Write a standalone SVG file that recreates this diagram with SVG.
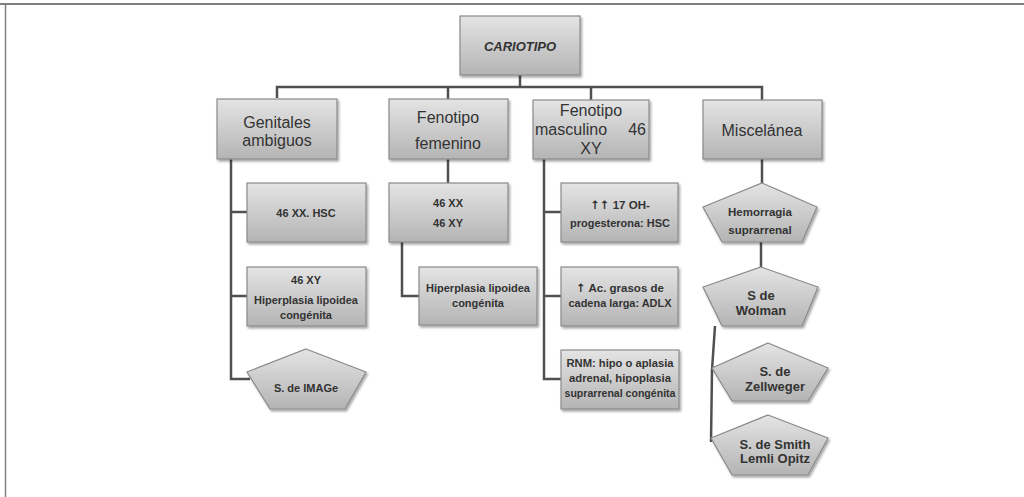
<svg xmlns="http://www.w3.org/2000/svg" width="1024" height="497" viewBox="0 0 1024 497">
<defs>
<linearGradient id="g" x1="0" y1="0" x2="0" y2="1">
<stop offset="0" stop-color="#e4e4e4"/>
<stop offset="1" stop-color="#b4b4b4"/>
</linearGradient>
<filter id="sh" x="-10%" y="-10%" width="130%" height="140%">
<feDropShadow dx="1.5" dy="2" stdDeviation="1.2" flood-color="#000" flood-opacity="0.35"/>
</filter>
<style>
.n{fill:url(#g);stroke:#8a8a8a;stroke-width:1.2;filter:url(#sh)}
.c{fill:none;stroke:#505050;stroke-width:2.5}
.h{font-family:"Liberation Sans",Arial,sans-serif;font-size:16px;fill:#333;text-anchor:middle}
.s{font-family:"Liberation Sans",Arial,sans-serif;font-size:11px;fill:#333;text-anchor:middle;font-weight:bold}
.p{font-family:"Liberation Sans",Arial,sans-serif;font-size:11.5px;fill:#333;text-anchor:middle;font-weight:bold}
.a{font-family:"DejaVu Sans",sans-serif;fill:#333}
</style>
</defs>
<rect width="1024" height="497" fill="#fff"/>
<line x1="0" y1="4" x2="1024" y2="4" stroke="#808080" stroke-width="2"/>
<line x1="5.5" y1="4" x2="5.5" y2="497" stroke="#808080" stroke-width="1.5"/>
<g id="connectors">
<polyline class="c" points="520,75 520,87"/>
<polyline class="c" points="277,98 277,87 762,87 762,100"/>
<polyline class="c" points="448,87 448,99"/>
<polyline class="c" points="591,87 591,100"/>
<polyline class="c" points="231,159 231,379 250,379"/>
<polyline class="c" points="231,212 247,212"/>
<polyline class="c" points="231,296 247,296"/>
<polyline class="c" points="448,159 448,183"/>
<polyline class="c" points="402,242 402,296 419,296"/>
<polyline class="c" points="544,159 544,379 561,379"/>
<polyline class="c" points="544,212 561,212"/>
<polyline class="c" points="544,296 561,296"/>
<polyline class="c" points="762,159 762,183"/>
<polyline class="c" points="761,242 761,267"/>
<polyline class="c" points="715,326 712,370 711,442"/>
</g>
<g id="cariotipo"><rect class="n" x="460" y="16" width="120" height="59"/><text x="520" y="51" class="h" style="font-weight:bold;font-style:italic;font-size:13px">CARIOTIPO</text></g>
<g id="genitales"><rect class="n" x="217" y="99" width="120" height="60"/><text x="277" y="128" class="h">Genitales</text><text x="277" y="146" class="h">ambiguos</text></g>
<g id="femenino"><rect class="n" x="389" y="99" width="119" height="60"/><text x="448" y="123" class="h">Fenotipo</text><text x="448" y="149" class="h">femenino</text></g>
<g id="masculino"><rect class="n" x="533" y="100" width="116" height="59"/><text x="591" y="116" class="h">Fenotipo</text><text x="535" y="135" class="h" style="text-anchor:start">masculino</text><text x="646" y="135" class="h" style="text-anchor:end">46</text><text x="591" y="154" class="h">XY</text></g>
<g id="miscelanea"><rect class="n" x="703" y="100" width="119" height="59"/><text x="762" y="136" class="h">Miscelánea</text></g>
<g id="n46xxhsc"><rect class="n" x="247" y="183" width="119" height="59"/><text x="306" y="217" class="s">46 XX.  HSC</text></g>
<g id="n46xy"><rect class="n" x="247" y="267" width="119" height="59"/><text x="306" y="284" class="s">46 XY</text><text x="306" y="304" class="s">Hiperplasia  lipoidea</text><text x="306" y="319" class="s">congénita</text></g>
<g id="imag"><polygon class="n" points="306,349 366,372 345,409 270,409 247,372"/><text x="306" y="392" class="s">S. de IMAGe</text></g>
<g id="n46xx46xy"><rect class="n" x="389" y="183" width="119" height="59"/><text x="448" y="207" class="s">46 XX</text><text x="448" y="227" class="s">46 XY</text></g>
<g id="hiperplasia"><rect class="n" x="419" y="267" width="118" height="58"/><text x="478" y="292" class="s">Hiperplasia  lipoidea</text><text x="478" y="307" class="s">congénita</text></g>
<g id="oh17"><rect class="n" x="561" y="183" width="117" height="59"/><text x="620" y="209" class="p"><tspan class="a">↑↑</tspan> 17 OH-</text><text x="620" y="227" class="p" textLength="100" lengthAdjust="spacingAndGlyphs">progesterona:  HSC</text></g>
<g id="acgrasos"><rect class="n" x="561" y="267" width="117" height="59"/><text x="620" y="292" class="p"><tspan class="a">↑</tspan> Ac. grasos de</text><text x="620" y="307" class="p" textLength="103" lengthAdjust="spacingAndGlyphs">cadena larga: ADLX</text></g>
<g id="rnm"><rect class="n" x="561" y="350" width="118" height="59"/><text x="620" y="367" class="p" textLength="107" lengthAdjust="spacingAndGlyphs">RNM: hipo  o aplasia</text><text x="620" y="382" class="p" textLength="102" lengthAdjust="spacingAndGlyphs">adrenal,  hipoplasia</text><text x="620" y="397" class="p" textLength="111" lengthAdjust="spacingAndGlyphs">suprarrenal  congénita</text></g>
<g id="hemorragia"><polygon class="n" points="762,183 817,207 802,242 722,242 703,207"/><text x="760" y="216" class="p">Hemorragia</text><text x="760" y="234" class="p">suprarrenal</text></g>
<g id="wolman"><polygon class="n" points="761,267 818,287 802,326 722,326 703,287"/><text x="761" y="300" class="p" style="font-size:13px">S de</text><text x="761" y="315" class="p" style="font-size:13px">Wolman</text></g>
<g id="zellweger"><polygon class="n" points="768,343 828,368 808,401 732,401 712,368"/><text x="775" y="376" class="p" style="font-size:13px">S. de</text><text x="775" y="391" class="p" style="font-size:13px">Zellweger</text></g>
<g id="smith"><polygon class="n" points="768,415 828,438 808,475 732,475 711,438"/><text x="775" y="449" class="p" style="font-size:13px">S. de Smith</text><text x="775" y="463" class="p" style="font-size:13px">Lemli Opitz</text></g>
</svg>
